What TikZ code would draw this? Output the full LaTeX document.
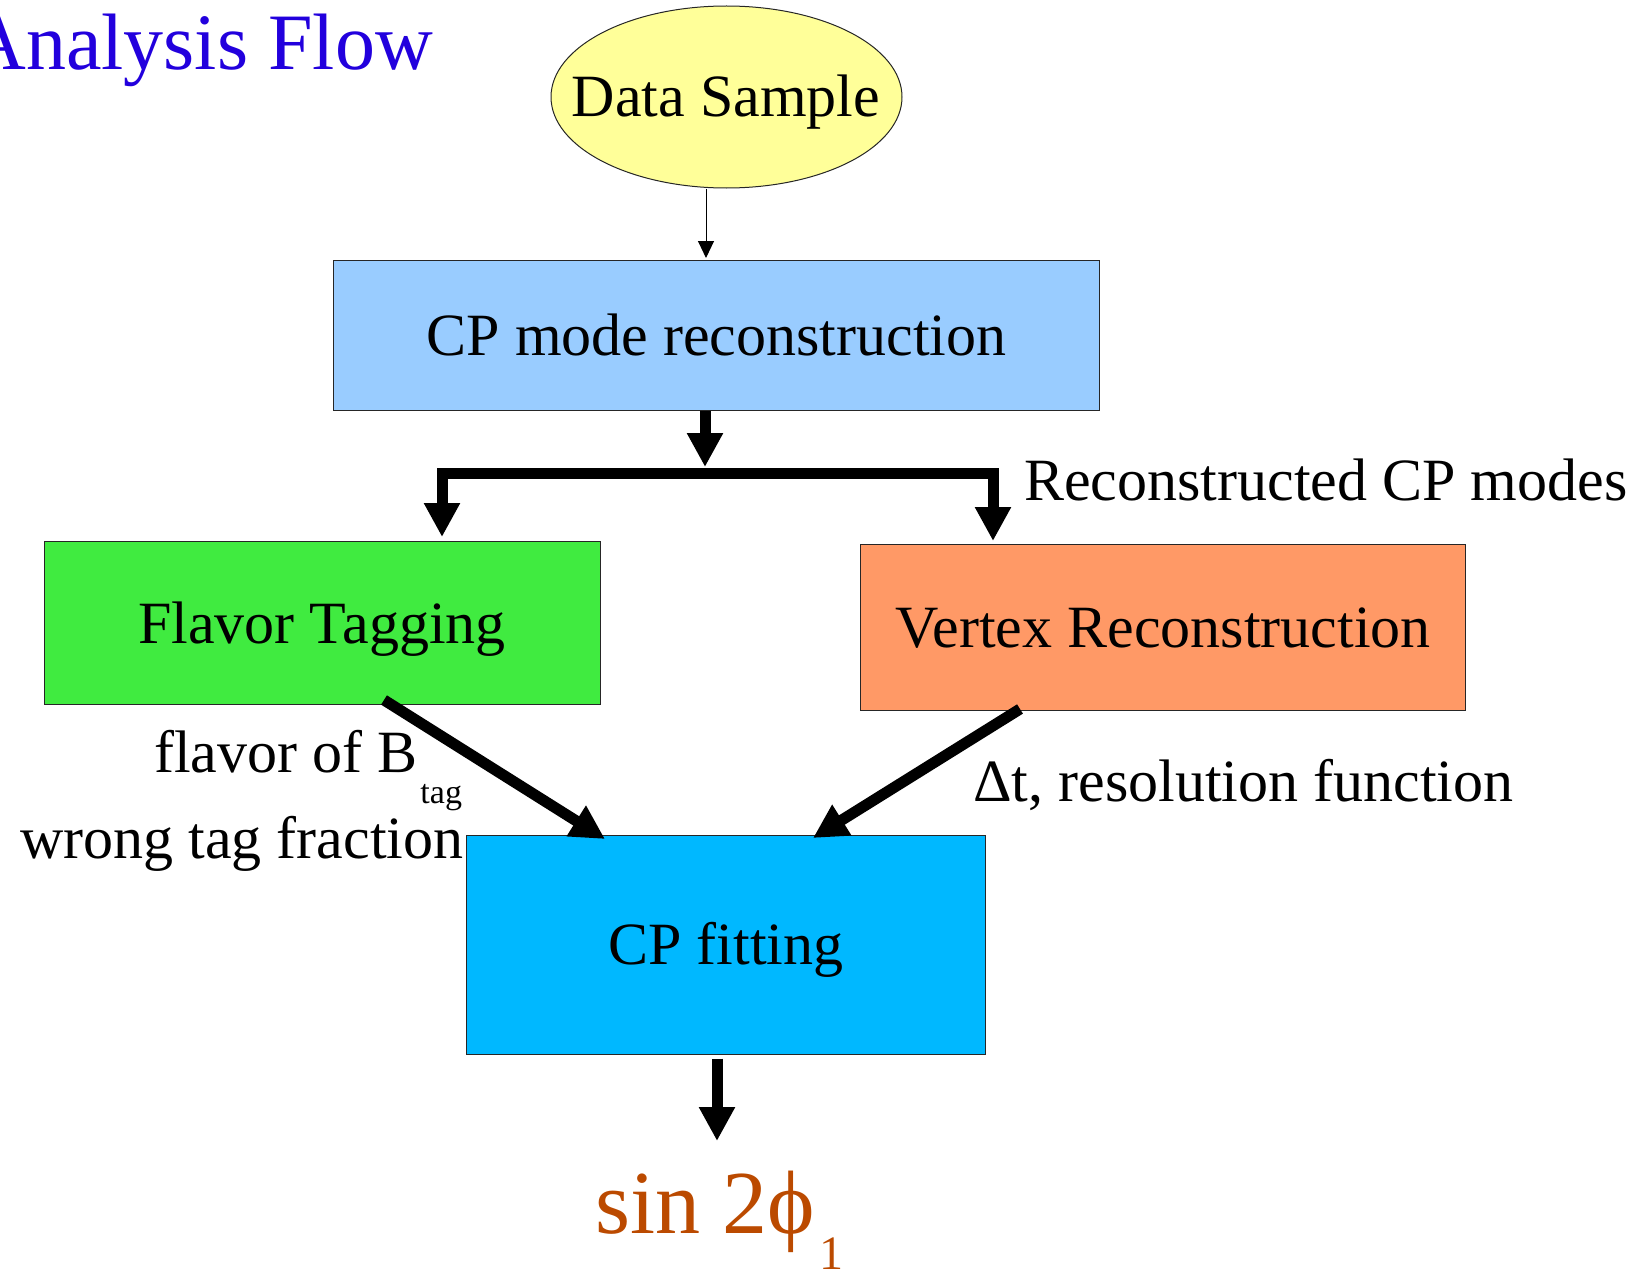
\documentclass[tikz,border=0pt]{standalone}
\usepackage{fontspec}
\setmainfont{Liberation Serif}
\usetikzlibrary{arrows.meta,shapes.geometric}
\definecolor{titleblue}{RGB}{34,0,221}
\definecolor{datayellow}{RGB}{255,255,153}
\definecolor{cpblue}{RGB}{153,204,255}
\definecolor{tagreen}{RGB}{64,235,64}
\definecolor{vtxorange}{RGB}{255,153,102}
\definecolor{fitblue}{RGB}{0,184,255}
\definecolor{sinbrown}{RGB}{187,74,0}
\begin{document}
\begin{tikzpicture}[x=1pt,y=-1pt,
  big/.style={font=\fontsize{60}{72}\selectfont},
  box/.style={draw=black!85, line width=1pt, inner sep=0pt, text height=40pt, text depth=0pt, big},
  lbl/.style={big, inner sep=0pt, anchor=base west},
  fat/.style={line width=11pt, -{Triangle[length=34pt,width=34pt]}},
  fatboth/.style={line width=11pt, {Triangle[length=34pt,width=34pt]}-{Triangle[length=34pt,width=34pt]}},
  slim/.style={line width=1pt, -{Triangle[length=17pt,width=16pt]}}]
\useasboundingbox (0,0) rectangle (1644,1271);
\clip (0,0) rectangle (1644,1271);

% title
\node[inner sep=0pt, anchor=base east, font=\fontsize{80}{96}\selectfont, text=titleblue] (title) at (433,70) {Analysis Flow};

% data sample
\node[ellipse, draw=black!85, line width=1pt, fill=datayellow, minimum width=351pt, minimum height=182pt, inner sep=0pt] (data) at (726.5,97) {};
\node[big, inner sep=0pt, anchor=base] (datatext) at (726,117) {Data Sample};

% boxes
\node[box, fill=cpblue, minimum width=766.5pt, minimum height=150pt] (cpmode) at (716.6,335) {CP mode reconstruction};
\node[box, fill=tagreen, minimum width=556pt, minimum height=163.3pt] (flavor) at (322,623.3) {Flavor Tagging};
\node[box, fill=vtxorange, minimum width=604.7pt, minimum height=166pt] (vertex) at (1163.3,627) {Vertex Reconstruction};
\node[box, fill=fitblue, minimum width=519pt, minimum height=218.4pt] (cpfit) at (726.1,944.8) {CP fitting};

% labels
\node[lbl] (recolbl) at (1024,500) {Reconstructed CP modes};
\node[lbl] (flavlbl) at (154,772) {flavor of B\raisebox{-31pt}{\fontsize{34}{34}\selectfont\hspace{3pt}tag}};
\node[lbl] (wronglbl) at (20,858) {wrong tag fraction};
\node[lbl] (dtlbl) at (973,801.7) {Δt, resolution function};
\node[inner sep=0pt, anchor=base west, font=\fontsize{90}{100}\selectfont, text=sinbrown] (result) at (595,1233) {sin 2ϕ\raisebox{-36pt}{\fontsize{48}{48}\selectfont\hspace{4pt}1}};

% connectors
\coordinate (a1) at (706,258);
\draw[slim] (data.south -| a1) -- (a1);

\coordinate (split) at (705,467);
\coordinate (ftip) at (442,537);
\coordinate (vtip) at (993,541);
\coordinate (bar) at (705,473);
\draw[fat] (cpmode.south -| split) -- (split);
\draw[fatboth, line join=miter] (ftip) -- (ftip |- bar) -- (vtip |- bar) -- (vtip);

\coordinate (fstart) at (384,700);
\coordinate (ftipfit) at (605,839);
\draw[fat] (fstart) -- (ftipfit);

\coordinate (vstart) at (1020,709);
\coordinate (vtipfit) at (813,838);
\draw[fat] (vstart) -- (vtipfit);

\coordinate (rtip) at (717,1141);
\draw[fat] ([yshift=-4pt]cpfit.south -| rtip) -- (rtip);
\end{tikzpicture}
\end{document}
